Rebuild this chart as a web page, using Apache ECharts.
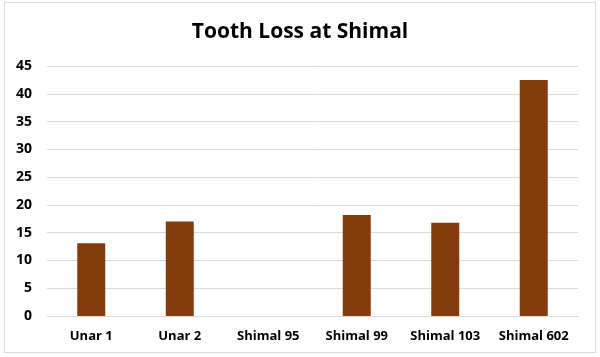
<!DOCTYPE html>
<html><head><meta charset="utf-8">
<script src="https://cdn.jsdelivr.net/npm/echarts@6/dist/echarts.min.js"></script>
<style>html,body{margin:0;padding:0;background:#fff}#c{width:600px;height:357px}</style>
</head><body><div id="c"></div>
<script>
var categories = ["Unar 1", "Unar 2", "Shimal 95", "Shimal 99", "Shimal 103", "Shimal 602"];
var values = [13.1, 17.0, 0, 18.2, 16.8, 42.5];
var yTicks = [0, 5, 10, 15, 20, 25, 30, 35, 40, 45];

var chart = echarts.init(document.getElementById('c'), null, {renderer: 'canvas'});
chart.setOption({
  animation: false,
  backgroundColor: '#fff',
  title: {
    text: 'Tooth Loss at Shimal', left: 'center', top: 17,
    textStyle: {fontFamily: 'Open Sans', fontWeight: 'bold', fontSize: 21, color: '#000'}
  },
  graphic: [{
    type: 'rect', shape: {x: 4.5, y: 2.5, width: 591, height: 350},
    style: {fill: 'none', stroke: '#d9d9d9', lineWidth: 1}, silent: true
  }],
  grid: {left: 47, right: 22, top: 66, bottom: 41},
  xAxis: {
    type: 'category', data: categories,
    axisLine: {lineStyle: {color: '#d9d9d9'}},
    axisTick: {show: false},
    axisLabel: {interval: 0, fontFamily: 'Open Sans', fontWeight: 'bold', fontSize: 13, color: '#000', margin: 14}
  },
  yAxis: {
    type: 'value', min: yTicks[0], max: yTicks[yTicks.length - 1], interval: 5,
    axisLine: {show: false}, axisTick: {show: false},
    splitLine: {lineStyle: {color: '#d9d9d9'}},
    axisLabel: {fontFamily: 'Open Sans', fontWeight: 'bold', fontSize: 14, color: '#000', margin: 15}
  },
  series: [{
    type: 'bar', data: values, barWidth: 28,
    itemStyle: {color: '#843C0C'}
  }]
});
</script></body></html>
